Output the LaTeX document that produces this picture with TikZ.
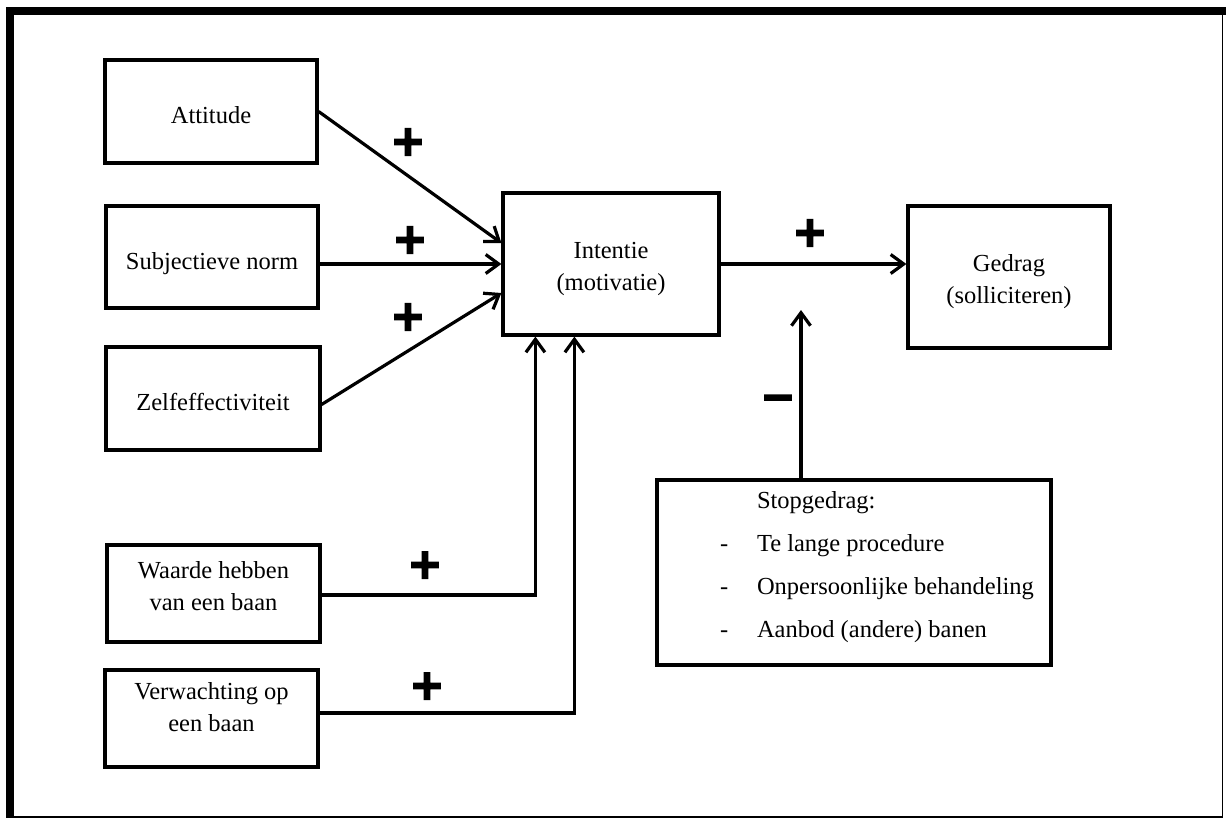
\documentclass[tikz,border=0pt]{standalone}
\usepackage{fontspec}
\setmainfont{Liberation Serif}
\newfontfamily\plusfont[FakeBold=4]{DejaVu Sans Bold}
\usetikzlibrary{arrows.meta}
\newcommand\tx[2]{\raisebox{#1}[\height][\depth]{\begin{tabular}{@{}c@{}}#2\end{tabular}}}
\begin{document}
\begin{tikzpicture}[x=1pt,y=-1pt,
  box/.style={draw, line width=3.2pt, inner sep=0pt, font=\fontsize{24.5}{32}\selectfont, align=center},
  arr/.style={line width=3.2pt, -{Straight Barb[length=13pt,width=19pt]}},
  sign/.style={inner sep=0pt, font=\plusfont\fontsize{42}{42}\selectfont}]
\useasboundingbox (0,0) rectangle (1226,819);
% frame
\fill (6,7) rectangle (14,818);
\fill (6,7) rectangle (1226,15);
\draw[line width=1.5pt] (14,817) -- (1222.5,817) -- (1222.5,15);
% boxes
\node[box, minimum width=212pt, minimum height=103pt] (att) at (211,111.5) {\tx{-6pt}{Attitude}};
\node[box, minimum width=212pt, minimum height=102pt] (subj) at (212,257) {\tx{-6pt}{Subjectieve norm}};
\node[box, minimum width=214pt, minimum height=103pt] (zelf) at (213,398.5) {\tx{-6pt}{Zelfeffectiviteit}};
\node[box, minimum width=216pt, minimum height=142pt] (intentie) at (611,264) {\tx{-4pt}{Intentie\\(motivatie)}};
\node[box, minimum width=202pt, minimum height=142pt] (gedrag) at (1009,277) {\tx{-4pt}{Gedrag\\(solliciteren)}};
\node[box, minimum width=213pt, minimum height=97pt] (waarde) at (213.5,593.5) {\tx{5pt}{Waarde hebben\\van een baan}};
\node[box, minimum width=213pt, minimum height=97pt] (verw) at (211.5,718.5) {\tx{9pt}{Verwachting op\\een baan}};
\node[draw, line width=3.2pt, inner sep=0pt, minimum width=394pt, minimum height=185pt, font=\fontsize{24.5}{43}\selectfont] (stop) at (854,572.5)
  {\hspace*{46pt}\raisebox{8pt}[\height][\depth]{\begin{tabular}{@{}l@{}l@{}}
   & Stopgedrag:\\
   \makebox[37pt][l]{-} & Te lange procedure\\
   \makebox[37pt][l]{-} & Onpersoonlijke behandeling\\
   \makebox[37pt][l]{-} & Aanbod (andere) banen
   \end{tabular}}};
% signs
\node[sign] (p1) at (408,142) {+};
\node[sign] (p2) at (410,240) {+};
\node[sign] (p3) at (408,317) {+};
\node[sign] (p4) at (810,233) {+};
\node[sign] (m1) at (778,403) {−};
\node[sign] (p5) at (425,565) {+};
\node[sign] (p6) at (427,686) {+};
% connectors
\draw[arr] (att.east) -- ([yshift=21pt]intentie.west);
\draw[arr] (subj.east |- intentie.west) -- (intentie.west);
\draw[arr] ([yshift=-6pt]zelf.east) -- ([yshift=-29pt]intentie.west);
\draw[arr] (intentie.east) -- (intentie.east -| gedrag.west);
\coordinate (stoptip) at (801,310);
\draw[arr] (stop.north -| stoptip) -- (stoptip);
\draw[arr] ([yshift=-1.5pt]waarde.east) -| ([xshift=34pt]intentie.south west);
\draw[arr] ([yshift=5.5pt]verw.east) -| ([xshift=73pt]intentie.south west);
\end{tikzpicture}
\end{document}
